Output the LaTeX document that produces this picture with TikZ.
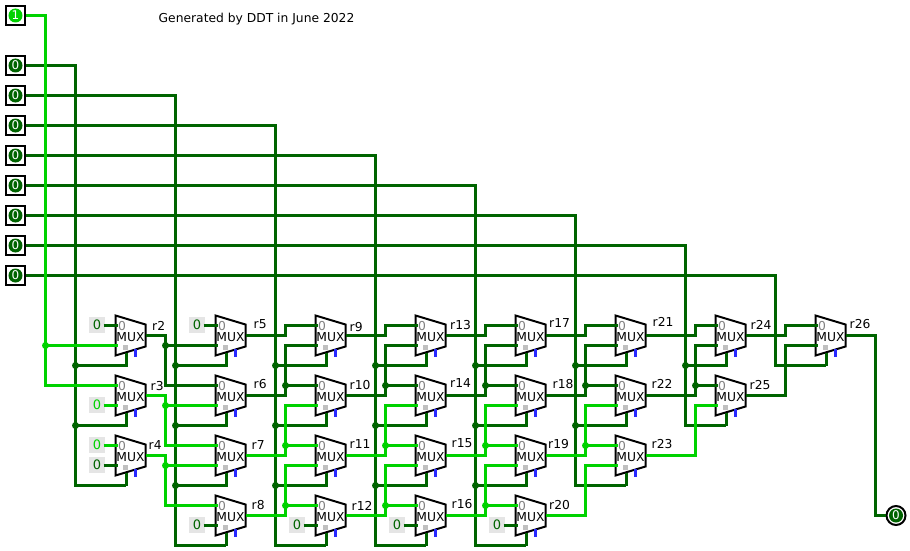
\documentclass[tikz,border=0pt]{standalone}
\usepackage{fontspec}
\setmainfont{DejaVu Sans}
\definecolor{lo}{HTML}{006400}
\definecolor{hi}{HTML}{00D200}
\definecolor{sel}{HTML}{2828FF}
\definecolor{stubgray}{HTML}{C0C0C0}
\definecolor{constbg}{HTML}{E5E5E5}
\newcommand\txtsize{\fontsize{12.3}{12.3}\selectfont}
\tikzset{
  wirelo/.style={draw=lo,line width=3pt},
  wirehi/.style={draw=hi,line width=3pt},
  muxshape/.style={draw=black,fill=white,line width=2pt,line join=miter},
  muxtext/.style={font=\txtsize,inner sep=0pt},
  zerotext/.style={font=\txtsize,inner sep=0pt,text=gray},
  reglabel/.style={font=\txtsize,inner sep=0pt,anchor=base west},
  jdot/.style={circle,inner sep=0pt,minimum size=7pt},
  constbox/.style={fill=constbg,inner sep=0pt,minimum size=16pt,font=\fontsize{13}{13}\selectfont,xshift=-0.5pt,yshift=0.5pt},
  pinbox/.style={draw=black,line width=2pt,fill=white,inner sep=0pt,minimum size=19pt},
  pinlamp/.style={circle,inner sep=0pt,minimum size=14pt,text=white,font=\fontsize{12}{12}\selectfont},
  outring/.style={circle,draw=black,line width=2pt,fill=white,inner sep=0pt,minimum size=19pt},
}
% name, left x, top y, label left x, label baseline y
\newcommand\muxunit[5]{%
  \begin{scope}[shift={(#2,#3)}]
    \draw[muxshape] (0,0) -- (30,9) -- (30,31) -- (0,40) -- cycle;
    \fill[stubgray] (7.2,29.5) rectangle (12.5,34.5);
    \fill[sel] (18.5,33.5) rectangle (21.5,41.5);
    \node[zerotext] (#1-zero) at (6.5,10.6) {0};
    \node[muxtext] (#1) at (15,21.4) {MUX};
    \coordinate (#1-a) at (2,10);
    \coordinate (#1-b) at (2,30);
    \coordinate (#1-o) at (30,20);
    \coordinate (#1-s) at (10.5,37);
    \coordinate (#1-t) at (10.5,50);
  \end{scope}
  \node[reglabel] (#1-name) at (#4,#5) {#1};
}
% style, from, bus, to : Z-shaped wire through a vertical bus
\newcommand\zwire[4]{\draw[#1] (#2) -- (#2 -| #3) -- (#4 -| #3) -- (#4);}
% colour, bus, to : junction dot where a branch leaves the bus
\newcommand\zdot[3]{\node[jdot,fill=#1] (dot-#3) at (#3 -| #2) {};}
% select-line branch from bus to a mux
\newcommand\selbranch[2]{%
  \draw[wirelo] (#2-t -| #1) -- (#2-t) -- (#2-s);
  \node[jdot,fill=lo] (dot-#2-t) at (#2-t -| #1) {};
}
% name, y, colour, digit
\newcommand\inpin[4]{%
  \node[pinbox] (#1) at (15,#2) {};
  \node[pinlamp,fill=#3] (#1-lamp) at (15,#2) {#4};
}
% name, x, y, colour
\newcommand\konst[4]{\node[constbox,text=#4] (#1) at (#2,#3) {\ifx#4hi 1\else 0\fi};}
% style, constant, mux input
\newcommand\kwire[3]{\draw[#1] (#2.east |- #3) ++(-1.5,0) -- (#3);}
\begin{document}
\begin{tikzpicture}[x=1pt,y=-1pt]
\useasboundingbox (-0.5,-0.5) rectangle (909.5,550.5);
\node[font=\txtsize,inner sep=0pt,anchor=base west] (title) at (158,22) {Generated by DDT in June 2022};
% multiplexers
\muxunit{r2}{115}{315}{151.5}{329.5}
\muxunit{r3}{115}{375}{150}{389.5}
\muxunit{r4}{115}{435}{148}{448.5}
\muxunit{r5}{215}{315}{253}{327.5}
\muxunit{r6}{215}{375}{253}{387.5}
\muxunit{r7}{215}{435}{251}{448.5}
\muxunit{r8}{215}{495}{251}{508.5}
\muxunit{r9}{315}{315}{349}{330.5}
\muxunit{r10}{315}{375}{349}{388.5}
\muxunit{r11}{315}{435}{349}{447.5}
\muxunit{r12}{315}{495}{351}{509.5}
\muxunit{r13}{415}{315}{449.5}{328.5}
\muxunit{r14}{415}{375}{449.5}{386.5}
\muxunit{r15}{415}{435}{451}{446.5}
\muxunit{r16}{415}{495}{451}{507.5}
\muxunit{r17}{515}{315}{548.5}{326.5}
\muxunit{r18}{515}{375}{552}{387.5}
\muxunit{r19}{515}{435}{547.5}{447.5}
\muxunit{r20}{515}{495}{548.5}{508.5}
\muxunit{r21}{615}{315}{652}{325.5}
\muxunit{r22}{615}{375}{651}{387.5}
\muxunit{r23}{615}{435}{651}{447.5}
\muxunit{r24}{715}{315}{750}{328.5}
\muxunit{r25}{715}{375}{749}{388.5}
\muxunit{r26}{815}{315}{849}{327.5}
% vertical bus positions
\foreach \bx in {45,75,165,175,275,285,375,385,475,485,575,585,685,695,775,785,875}
  \coordinate (b\bx) at (\bx,0);
% pins and constants
\inpin{pa}{15}{hi}{1}
\inpin{pb}{65}{lo}{0}
\inpin{pc}{95}{lo}{0}
\inpin{pd}{125}{lo}{0}
\inpin{pe}{155}{lo}{0}
\inpin{pf}{185}{lo}{0}
\inpin{pg}{215}{lo}{0}
\inpin{ph}{245}{lo}{0}
\inpin{pi}{275}{lo}{0}
\node[outring] (outp) at (895.5,515) {};
\node[pinlamp,fill=lo] (outp-lamp) at (895.5,515) {0};
\konst{k2}{97}{325}{lo}
\konst{k3}{97}{405}{hi}
\konst{k4a}{97}{445}{hi}
\konst{k4b}{97}{465}{lo}
\konst{k5}{197}{325}{lo}
\konst{k8}{197}{525}{lo}
\konst{k12}{297}{525}{lo}
\konst{k16}{397}{525}{lo}
\konst{k20}{497}{525}{lo}
% low wires: select buses
\zwire{wirelo}{pb.east}{b75}{r4-t}\draw[wirelo] (r4-t) -- (r4-s);
\selbranch{b75}{r2}\selbranch{b75}{r3}
\zwire{wirelo}{pc.east}{b175}{r8-t}\draw[wirelo] (r8-t) -- (r8-s);
\selbranch{b175}{r5}\selbranch{b175}{r6}\selbranch{b175}{r7}
\zwire{wirelo}{pd.east}{b275}{r12-t}\draw[wirelo] (r12-t) -- (r12-s);
\selbranch{b275}{r9}\selbranch{b275}{r10}\selbranch{b275}{r11}
\zwire{wirelo}{pe.east}{b375}{r16-t}\draw[wirelo] (r16-t) -- (r16-s);
\selbranch{b375}{r13}\selbranch{b375}{r14}\selbranch{b375}{r15}
\zwire{wirelo}{pf.east}{b475}{r20-t}\draw[wirelo] (r20-t) -- (r20-s);
\selbranch{b475}{r17}\selbranch{b475}{r18}\selbranch{b475}{r19}
\zwire{wirelo}{pg.east}{b575}{r23-t}\draw[wirelo] (r23-t) -- (r23-s);
\selbranch{b575}{r21}\selbranch{b575}{r22}
\zwire{wirelo}{ph.east}{b685}{r25-t}\draw[wirelo] (r25-t) -- (r25-s);
\selbranch{b685}{r24}
\zwire{wirelo}{pi.east}{b775}{r26-t}\draw[wirelo] (r26-t) -- (r26-s);
% low wires: data
\kwire{wirelo}{k2}{r2-a}
\kwire{wirelo}{k4b}{r4-b}
\kwire{wirelo}{k5}{r5-a}
\kwire{wirelo}{k8}{r8-b}
\kwire{wirelo}{k12}{r12-b}
\kwire{wirelo}{k16}{r16-b}
\kwire{wirelo}{k20}{r20-b}
\zwire{wirelo}{r2-o}{b165}{r6-a}\zwire{wirelo}{r2-o}{b165}{r5-b}\zdot{lo}{b165}{r5-b}
\zwire{wirelo}{r5-o}{b285}{r9-a}
\zwire{wirelo}{r6-o}{b285}{r9-b}\zwire{wirelo}{r6-o}{b285}{r10-a}\zdot{lo}{b285}{r10-a}
\zwire{wirelo}{r9-o}{b385}{r13-a}
\zwire{wirelo}{r10-o}{b385}{r13-b}\zwire{wirelo}{r10-o}{b385}{r14-a}\zdot{lo}{b385}{r14-a}
\zwire{wirelo}{r13-o}{b485}{r17-a}
\zwire{wirelo}{r14-o}{b485}{r17-b}\zwire{wirelo}{r14-o}{b485}{r18-a}\zdot{lo}{b485}{r18-a}
\zwire{wirelo}{r17-o}{b585}{r21-a}
\zwire{wirelo}{r18-o}{b585}{r21-b}\zwire{wirelo}{r18-o}{b585}{r22-a}\zdot{lo}{b585}{r22-a}
\zwire{wirelo}{r21-o}{b695}{r24-a}
\zwire{wirelo}{r22-o}{b695}{r24-b}\zwire{wirelo}{r22-o}{b695}{r25-a}\zdot{lo}{b695}{r25-a}
\zwire{wirelo}{r24-o}{b785}{r26-a}
\zwire{wirelo}{r25-o}{b785}{r26-b}
\zwire{wirelo}{r26-o}{b875}{outp.west}
% high wires
\zwire{wirehi}{pa.east}{b45}{r3-a}\zwire{wirehi}{pa.east}{b45}{r2-b}\zdot{hi}{b45}{r2-b}
\kwire{wirehi}{k3}{r3-b}
\kwire{wirehi}{k4a}{r4-a}
\zwire{wirehi}{r3-o}{b165}{r7-a}\zwire{wirehi}{r3-o}{b165}{r6-b}\zdot{hi}{b165}{r6-b}
\zwire{wirehi}{r4-o}{b165}{r8-a}\zwire{wirehi}{r4-o}{b165}{r7-b}\zdot{hi}{b165}{r7-b}
\zwire{wirehi}{r7-o}{b285}{r10-b}\zwire{wirehi}{r7-o}{b285}{r11-a}\zdot{hi}{b285}{r11-a}
\zwire{wirehi}{r8-o}{b285}{r11-b}\zwire{wirehi}{r8-o}{b285}{r12-a}\zdot{hi}{b285}{r12-a}
\zwire{wirehi}{r11-o}{b385}{r14-b}\zwire{wirehi}{r11-o}{b385}{r15-a}\zdot{hi}{b385}{r15-a}
\zwire{wirehi}{r12-o}{b385}{r15-b}\zwire{wirehi}{r12-o}{b385}{r16-a}\zdot{hi}{b385}{r16-a}
\zwire{wirehi}{r15-o}{b485}{r18-b}\zwire{wirehi}{r15-o}{b485}{r19-a}\zdot{hi}{b485}{r19-a}
\zwire{wirehi}{r16-o}{b485}{r19-b}\zwire{wirehi}{r16-o}{b485}{r20-a}\zdot{hi}{b485}{r20-a}
\zwire{wirehi}{r19-o}{b585}{r22-b}\zwire{wirehi}{r19-o}{b585}{r23-a}\zdot{hi}{b585}{r23-a}
\zwire{wirehi}{r20-o}{b585}{r23-b}
\zwire{wirehi}{r23-o}{b695}{r25-b}
\end{tikzpicture}
\end{document}
